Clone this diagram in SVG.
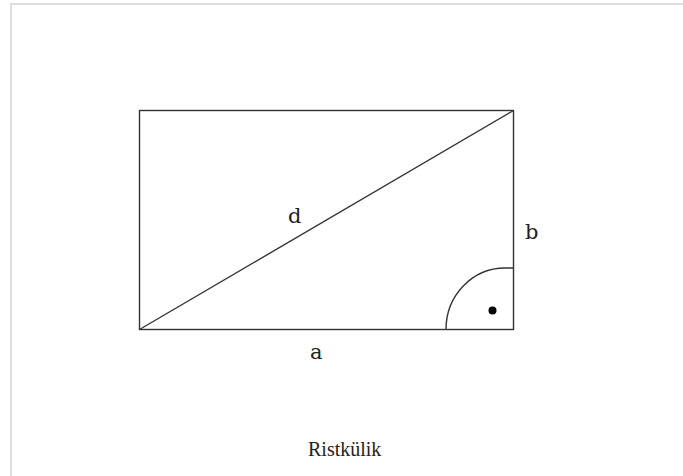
<svg xmlns="http://www.w3.org/2000/svg" width="683" height="476" viewBox="0 0 683 476">
<style>
.ln{fill:none;stroke:#333;stroke-width:1.4}
.lbl{font-family:"DejaVu Serif","Liberation Serif",serif;font-size:21px;fill:#222}
.cap{font-family:"Liberation Serif",serif;font-size:20px;fill:#222}
</style>
<rect x="0" y="0" width="683" height="476" fill="#fff"/>
<rect x="11" y="4" width="673" height="480" fill="none" stroke="#ddd" stroke-width="2"/>
<g id="rectangle">
<rect class="ln" x="139.5" y="110.5" width="374" height="219"/>
</g>
<g id="connectors">
<line class="ln" x1="139.5" y1="329.5" x2="513.5" y2="110.5"/>
</g>
<g id="right-angle">
<path class="ln" d="M446,329.5 A59,61.5 0 0 1 505,268 L513.5,268"/>
<circle cx="492.5" cy="310.5" r="4" fill="#000"/>
</g>
<g id="labels">
<text class="lbl" x="288" y="222.5">d</text>
<text class="lbl" x="525" y="238.5">b</text>
<text class="lbl" x="310" y="358.5">a</text>
<text class="cap" x="308" y="456">Ristkülik</text>
</g>
</svg>
